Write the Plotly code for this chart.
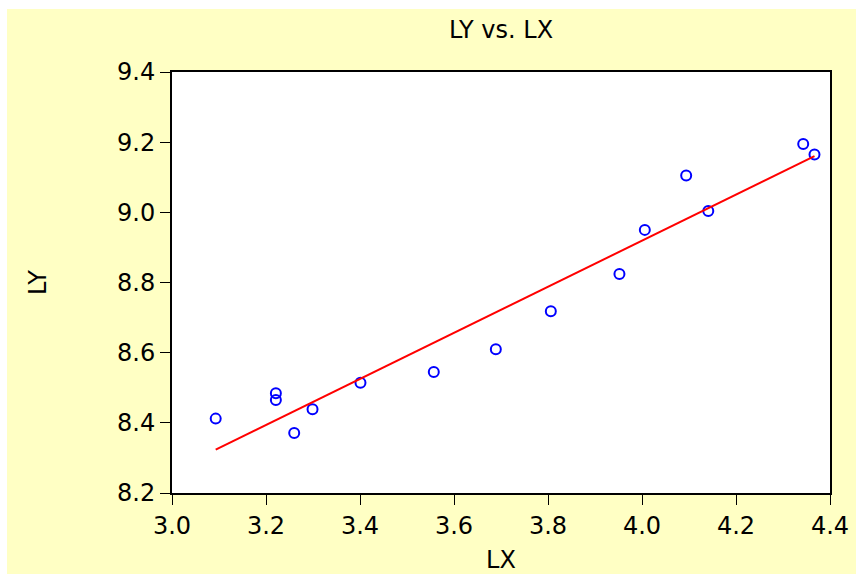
import numpy as np
import plotly.graph_objects as go

# Observations of LX and LY
lx = [3.093, 3.221, 3.221, 3.260, 3.299, 3.401, 3.557, 3.689,
      3.806, 3.952, 4.006, 4.094, 4.141, 4.343, 4.367]
ly = [8.412, 8.484, 8.465, 8.371, 8.439, 8.514, 8.545, 8.610,
      8.718, 8.824, 8.950, 9.105, 9.004, 9.195, 9.165]

x_ticks = [3.0, 3.2, 3.4, 3.6, 3.8, 4.0, 4.2, 4.4]
y_ticks = [8.2, 8.4, 8.6, 8.8, 9.0, 9.2, 9.4]

# Least-squares regression line over the observed LX range
slope, intercept = np.polyfit(lx, ly, 1)
fit_x = [min(lx), max(lx)]
fit_y = [intercept + slope * v for v in fit_x]

FONT = "DejaVu Sans"
BG = "#FFFFC4"

fig = go.Figure()
fig.add_trace(go.Scatter(
    x=lx, y=ly, mode="markers",
    marker=dict(symbol="circle-open", size=10, color="#0000FF",
                line=dict(width=2, color="#0000FF")),
    showlegend=False, hoverinfo="x+y",
))
fig.add_trace(go.Scatter(
    x=fit_x, y=fit_y, mode="lines",
    line=dict(color="#FF0000", width=2),
    showlegend=False, hoverinfo="skip",
))

axis_common = dict(
    showgrid=False, zeroline=False, automargin=False,
    showline=True, linecolor="black", linewidth=2, mirror=True,
    ticks="outside", ticklen=10, tickwidth=1, tickcolor="black",
    tickfont=dict(family=FONT, size=24, color="black"),
    tickformat=".1f",
)

fig.update_xaxes(
    range=[3.0, 4.4], tickvals=x_ticks, **axis_common,
    title=dict(text="LX", font=dict(family=FONT, size=24, color="black"), standoff=17),
)
fig.update_yaxes(
    range=[8.2, 9.4], tickvals=y_ticks, **axis_common,
    title=dict(text="LY", font=dict(family=FONT, size=24, color="black"), standoff=64),
)

fig.update_layout(
    width=856, height=574,
    margin=dict(l=172, r=26, t=72, b=81),
    paper_bgcolor=BG, plot_bgcolor="white",
    title=dict(text="LY vs. LX", x=(172 + 830) / 2 / 856, xanchor="center",
               y=1 - 30 / 574, yanchor="middle", yref="container",
               font=dict(family=FONT, size=24, color="black")),
    shapes=[
        # thin white border along the top and left edges of the page
        dict(type="rect", xref="paper", yref="paper", x0=-0.5, x1=1.5,
             y0=(493 - 9) / 421, y1=1.5, fillcolor="white", line=dict(width=0),
             layer="below"),
        dict(type="rect", xref="paper", yref="paper", x0=-0.5, x1=(7 - 172) / 658,
             y0=-0.5, y1=1.5, fillcolor="white", line=dict(width=0),
             layer="below"),
    ],
)

fig.write_html("out.html")
